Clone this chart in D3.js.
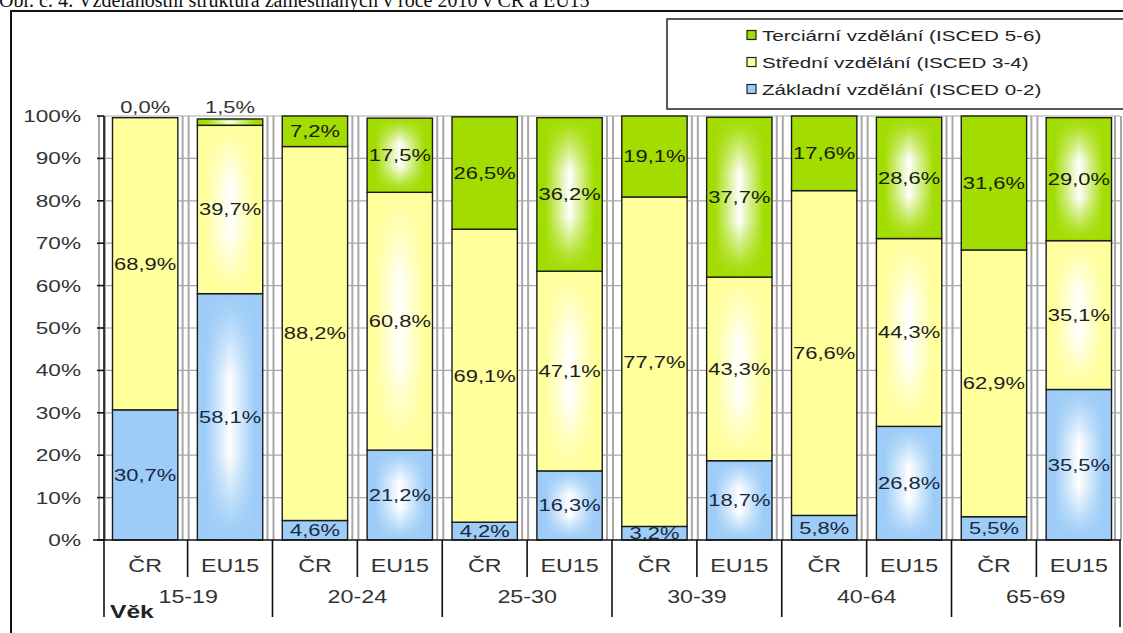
<!DOCTYPE html>
<html>
<head>
<meta charset="utf-8">
<script src="https://cdn.jsdelivr.net/npm/d3@7"></script>
<style>
  html, body { margin: 0; padding: 0; background: #fff; overflow: hidden; }
  svg { display: block; }
</style>
</head>
<body>
<div id="chart"></div>
<script>
// data (per cent of the employed)
const ageGroups = ["15-19", "20-24", "25-30", "30-39", "40-64", "65-69"];
const regions = ["ČR", "EU15"];
const zakladni = [30.7, 58.1, 4.6, 21.2, 4.2, 16.3, 3.2, 18.7, 5.8, 26.8, 5.5, 35.5];
const stredni = [68.9, 39.7, 88.2, 60.8, 69.1, 47.1, 77.7, 43.3, 76.6, 44.3, 62.9, 35.1];
const terciarni = [0.0, 1.5, 7.2, 17.5, 26.5, 36.2, 19.1, 37.7, 17.6, 28.6, 31.6, 29.0];
const seriesNames = ["Základní vzdělání (ISCED 0-2)", "Střední vzdělání (ISCED 3-4)", "Terciární vzdělání (ISCED 5-6)"];
const seriesKeys = ["zakladni", "stredni", "terciarni"];
const yTicks = [0, 10, 20, 30, 40, 50, 60, 70, 80, 90, 100];
const title = "Obr. č. 4: Vzdělanostní struktura zaměstnaných v roce 2010 v ČR a EU15";

const colors = { zakladni: "#9cccf7", stredni: "#ffff9c", terciarni: "#a2dc00" };
const labelColors = { zakladni: "#1a2840", stredni: "#1e1e1e", terciarni: "#1a200c" };

const rows = [];
ageGroups.forEach((age, gi) => {
    regions.forEach((reg, ri) => {
        const i = gi * 2 + ri;
        rows.push({ id: age + "|" + reg, age, region: reg,
            zakladni: zakladni[i], stredni: stredni[i], terciarni: terciarni[i] });
    });
});

const W = 1123, H = 633;
const SX = 1.33; // the picture is stretched sideways, so is the text
const font = "Arial, 'Liberation Sans', sans-serif";

const svg = d3.select("#chart").append("svg")
    .attr("width", W)
    .attr("height", H);

// EU15 bars: white centre fading out to the colour (two crossed gradients)
const defs = svg.append("defs");
seriesKeys.forEach(k => {
    const h = defs.append("linearGradient")
        .attr("id", "hgrad-" + k)
        .attr("x1", 0).attr("x2", 1).attr("y1", 0).attr("y2", 0);
    [[0, colors[k]], [0.12, colors[k]], [0.5, "#ffffff"], [0.88, colors[k]], [1, colors[k]]]
        .forEach(([o, c]) => h.append("stop").attr("offset", o).attr("stop-color", c));
    const v = defs.append("linearGradient")
        .attr("id", "vgrad-" + k)
        .attr("x1", 0).attr("x2", 0).attr("y1", 0).attr("y2", 1);
    [[0, 1], [0.08, 0.85], [0.35, 0], [0.65, 0], [0.92, 0.85], [1, 1]]
        .forEach(([o, a]) => v.append("stop").attr("offset", o)
            .attr("stop-color", colors[k]).attr("stop-opacity", a));
});

// stretched text helper
function label(sel, x, y, txt, opts = {}) {
    return sel.append("text")
        .attr("transform", `translate(${x},${y}) scale(${opts.sx || SX},1)`)
        .attr("text-anchor", opts.anchor || "middle")
        .attr("dominant-baseline", opts.baseline || "auto")
        .style("font-family", opts.family || font)
        .style("font-size", (opts.size || 17) + "px")
        .style("font-weight", opts.weight || "normal")
        .style("fill", opts.fill || "#333")
        .text(txt);
}

// title, mostly cut off at the top as in the source
svg.append("text")
    .attr("x", -1).attr("y", 7)
    .style("font-family", "'Liberation Serif', 'Times New Roman', serif")
    .style("font-size", "20px")
    .style("fill", "#111")
    .text(title);

// outer frame
svg.append("rect")
    .attr("x", 11).attr("y", 11)
    .attr("width", W + 20).attr("height", H + 20)
    .attr("fill", "none")
    .attr("stroke", "#111")
    .attr("stroke-width", 2);

const x0 = 104, x1 = 1120, yTop = 116, yBot = 540;

const x = d3.scaleBand()
    .domain(rows.map(d => d.id))
    .range([x0, x1])
    .paddingInner(0.23)
    .paddingOuter(0.1);

const y = d3.scaleLinear().domain([0, 100]).range([yBot, yTop]);

const step = x.step();
const gap = step - x.bandwidth();
// separators half way between bars
const seps = rows.map(d => x(d.id) - gap / 2).concat([x1]);
seps[0] = x0;

// grid
const grid = svg.append("g");
grid.selectAll("line.h")
    .data(yTicks.filter(t => t > 0))
    .join("line")
    .attr("x1", x0).attr("x2", x1)
    .attr("y1", d => y(d)).attr("y2", d => y(d))
    .attr("stroke", "#a8a8a8")
    .attr("stroke-width", 1.2);
[-5, 1].forEach(off => {
    grid.selectAll(null)
        .data(seps)
        .join("line")
        .attr("x1", d => d + off).attr("x2", d => d + off)
        .attr("y1", yTop).attr("y2", yBot)
        .attr("stroke", "#a8a8a8")
        .attr("stroke-width", 2);
});

// stacked bars
const stack = d3.stack().keys(seriesKeys);
const layers = stack(rows);

const bars = svg.append("g");
layers.forEach(layer => {
    const k = layer.key;
    const segs = layer.filter(d => d[1] - d[0] > 0);
    const base = bars.selectAll(null)
        .data(segs)
        .join("rect")
        .attr("x", d => x(d.data.id))
        .attr("width", x.bandwidth())
        .attr("y", d => y(d[1]))
        .attr("height", d => y(d[0]) - y(d[1]))
        .attr("fill", d => d.data.region === "EU15" ? `url(#hgrad-${k})` : colors[k])
        .attr("stroke", "none");
    bars.selectAll(null)
        .data(segs)
        .join("rect")
        .attr("x", d => x(d.data.id))
        .attr("width", x.bandwidth())
        .attr("y", d => y(d[1]))
        .attr("height", d => y(d[0]) - y(d[1]))
        .attr("fill", d => d.data.region === "EU15" ? `url(#vgrad-${k})` : "none")
        .attr("stroke", "#1c1c1c")
        .attr("stroke-width", 1.4);
});

// value labels
const fmt = v => d3.format(".1f")(v).replace(".", ",") + "%";
const vl = svg.append("g");
layers.forEach(layer => {
    const k = layer.key;
    layer.forEach(d => {
        const v = d.data[k];
        const cx = x(d.data.id) + x.bandwidth() / 2;
        if (k === "terciarni" && v < 3) {
            label(vl, cx, yTop - 3, fmt(v), { size: 16.5, fill: "#333" });
        } else {
            label(vl, cx, y((d[0] + d[1]) / 2), fmt(v),
                { size: 16.5, fill: labelColors[k], baseline: "central" });
        }
    });
});

// axes
const ax = svg.append("g").attr("stroke", "#111").attr("stroke-width", 1.6);
ax.append("line").attr("x1", x0).attr("x2", x0).attr("y1", yTop).attr("y2", 617);
ax.append("line").attr("x1", 93).attr("x2", x1 + 1).attr("y1", yBot).attr("y2", yBot);
ax.selectAll("line.tick")
    .data(yTicks)
    .join("line")
    .attr("x1", 97).attr("x2", x0)
    .attr("y1", d => y(d)).attr("y2", d => y(d));

yTicks.forEach(t => {
    label(svg, 81, y(t), t + "%", { anchor: "end", baseline: "central", size: 17 });
});

// category separators: short inside a group, long between groups
ax.selectAll("line.sep")
    .data(seps.slice(1))
    .join("line")
    .attr("x1", d => d).attr("x2", d => d)
    .attr("y1", yBot)
    .attr("y2", (d, i) => (i % 2 === 0 ? 577 : (i === seps.length - 2 ? 627 : 617)));

rows.forEach(d => {
    label(svg, x(d.id) + x.bandwidth() / 2, 572, d.region, { size: 17.5 });
});
ageGroups.forEach((age, gi) => {
    const cx = (seps[gi * 2] + seps[gi * 2 + 2]) / 2;
    label(svg, cx, 603, age, { size: 17.5 });
});
label(svg, 110, 618, "Věk", { anchor: "start", size: 18.5, weight: "bold", fill: "#222" });

// legend
const lg = svg.append("g");
lg.append("rect")
    .attr("x", 667).attr("y", 19)
    .attr("width", 500).attr("height", 90)
    .attr("fill", "#fff")
    .attr("stroke", "#222")
    .attr("stroke-width", 1.5);
const legendOrder = [2, 1, 0];
legendOrder.forEach((si, r) => {
    const ly = 35 + r * 27;
    lg.append("rect")
        .attr("x", 747).attr("y", ly - 4.5)
        .attr("width", 9).attr("height", 9)
        .attr("fill", colors[seriesKeys[si]])
        .attr("stroke", "#222")
        .attr("stroke-width", 1.2);
    label(lg, 762, ly, seriesNames[si], { anchor: "start", baseline: "central", size: 15.5, fill: "#222" });
});
</script>
</body>
</html>
